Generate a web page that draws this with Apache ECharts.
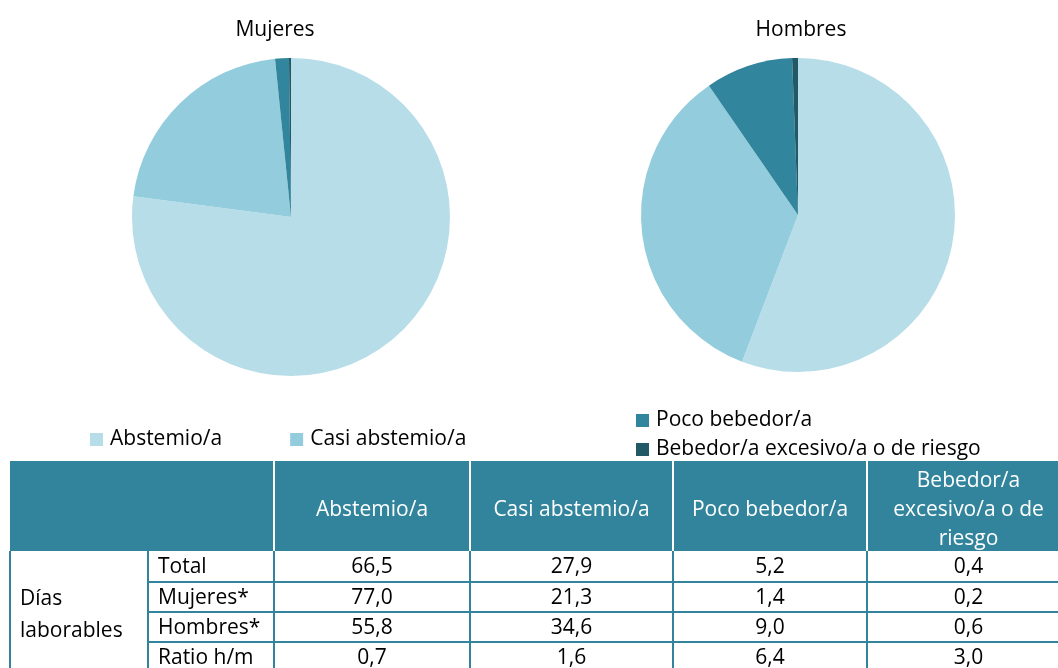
<!DOCTYPE html>
<html><head><meta charset="utf-8">
<script src="https://cdn.jsdelivr.net/npm/echarts@6/dist/echarts.min.js"></script>
<style>html,body{margin:0;padding:0;background:#fff}#c{width:1058px;height:668px}</style>
</head><body><div id="c"></div>
<script>
const categories = ['Abstemio/a', 'Casi abstemio/a', 'Poco bebedor/a', 'Bebedor/a excesivo/a o de riesgo'];
const colors = ['#b7dde8', '#93cddd', '#31859c', '#215967'];
const pieTitles = ['Mujeres', 'Hombres'];
const mujeres = [77.0, 21.3, 1.4, 0.2];
const hombres = [55.8, 34.6, 9.0, 0.6];
const tableHeaders = ['Abstemio/a', 'Casi abstemio/a', 'Poco bebedor/a', 'Bebedor/a\nexcesivo/a o de\nriesgo'];
const groupLabel = 'Días\nlaborables';
const rowLabels = ['Total', 'Mujeres*', 'Hombres*', 'Ratio h/m'];
const totalRow = [66.5, 27.9, 5.2, 0.4];
const ratioRow = [0.7, 1.6, 6.4, 3.0];
const tableRows = [totalRow, mujeres, hombres, ratioRow];

const FONT = '"Open Sans"';
const FS = 21;
const TEAL = '#31849b';
const fmt = v => v.toFixed(1).replace('.', ',');

// table layout
const colX = [10, 148, 274, 470, 673, 867, 1070];
const headTop = 461, headBot = 551;
const rowY = [551, 582, 612, 642, 672];

const graphics = [];
graphics.push({type: 'rect', shape: {x: colX[0], y: headTop, width: 1070 - colX[0], height: headBot - headTop}, style: {fill: TEAL}});
for (let i = 2; i <= 5; i++) {
  graphics.push({type: 'rect', shape: {x: colX[i] - 1, y: headTop, width: 2, height: headBot - headTop}, style: {fill: '#fff'}});
}
tableHeaders.forEach((h, i) => {
  graphics.push({type: 'text', x: (colX[i + 2] + colX[i + 3]) / 2, y: (headTop + headBot) / 2 + 4,
    style: {text: h, fill: '#fff', font: FS + 'px ' + FONT, align: 'center', verticalAlign: 'middle', lineHeight: 29}});
});
// grid lines
for (let i = 0; i <= 5; i++) {
  graphics.push({type: 'rect', shape: {x: colX[i] - 1, y: headBot, width: 2, height: 668 - headBot}, style: {fill: TEAL}});
}
for (let r = 1; r < 4; r++) {
  graphics.push({type: 'rect', shape: {x: colX[1], y: rowY[r] - 1, width: 1070 - colX[1], height: 2}, style: {fill: TEAL}});
}
graphics.push({type: 'text', x: 20, y: (rowY[0] + rowY[4]) / 2 + 4,
  style: {text: groupLabel, fill: '#000', font: FS + 'px ' + FONT, align: 'left', verticalAlign: 'middle', lineHeight: 32}});
rowLabels.forEach((lab, r) => {
  const cy = (rowY[r] + rowY[r + 1]) / 2 + 1;
  graphics.push({type: 'text', x: 158, y: cy, style: {text: lab, fill: '#000', font: FS + 'px ' + FONT, align: 'left', verticalAlign: 'middle'}});
  tableRows[r].forEach((v, c) => {
    graphics.push({type: 'text', x: (colX[c + 2] + colX[c + 3]) / 2, y: cy,
      style: {text: fmt(v), fill: '#000', font: FS + 'px ' + FONT, align: 'center', verticalAlign: 'middle'}});
  });
});

const mkData = vals => vals.map((v, i) => ({name: categories[i], value: v, itemStyle: {color: colors[i]}}));

const option = {
  animation: false,
  textStyle: {fontFamily: FONT},
  title: [
    {text: pieTitles[0], left: 270, top: 15, textAlign: 'center', textStyle: {fontFamily: FONT, fontSize: FS, fontWeight: 'normal', color: '#000'}},
    {text: pieTitles[1], left: 796, top: 15, textAlign: 'center', textStyle: {fontFamily: FONT, fontSize: FS, fontWeight: 'normal', color: '#000'}}
  ],
  legend: [
    {data: categories.slice(0, 2), left: 90, top: 429, padding: 0, icon: 'rect', itemWidth: 13, itemHeight: 13, itemGap: 68,
      textStyle: {fontFamily: FONT, fontSize: FS, color: '#000', padding: [0, 0, 0, 2]}, selectedMode: false},
    {data: categories.slice(2), orient: 'vertical', left: 636, top: 410, padding: 0, icon: 'rect', itemWidth: 13, itemHeight: 13, itemGap: 8,
      textStyle: {fontFamily: FONT, fontSize: FS, color: '#000', padding: [0, 0, 0, 2]}, selectedMode: false}
  ],
  series: [
    {type: 'pie', center: [291, 217], radius: 159, startAngle: 90, clockwise: true, label: {show: false}, labelLine: {show: false},
      emphasis: {disabled: true}, data: mkData(mujeres)},
    {type: 'pie', center: [798, 215], radius: 157, startAngle: 90, clockwise: true, label: {show: false}, labelLine: {show: false},
      emphasis: {disabled: true}, data: mkData(hombres)}
  ],
  graphic: graphics
};
const chart = echarts.init(document.getElementById('c'), null, {renderer: 'canvas'});
chart.setOption(option);
</script></body></html>
